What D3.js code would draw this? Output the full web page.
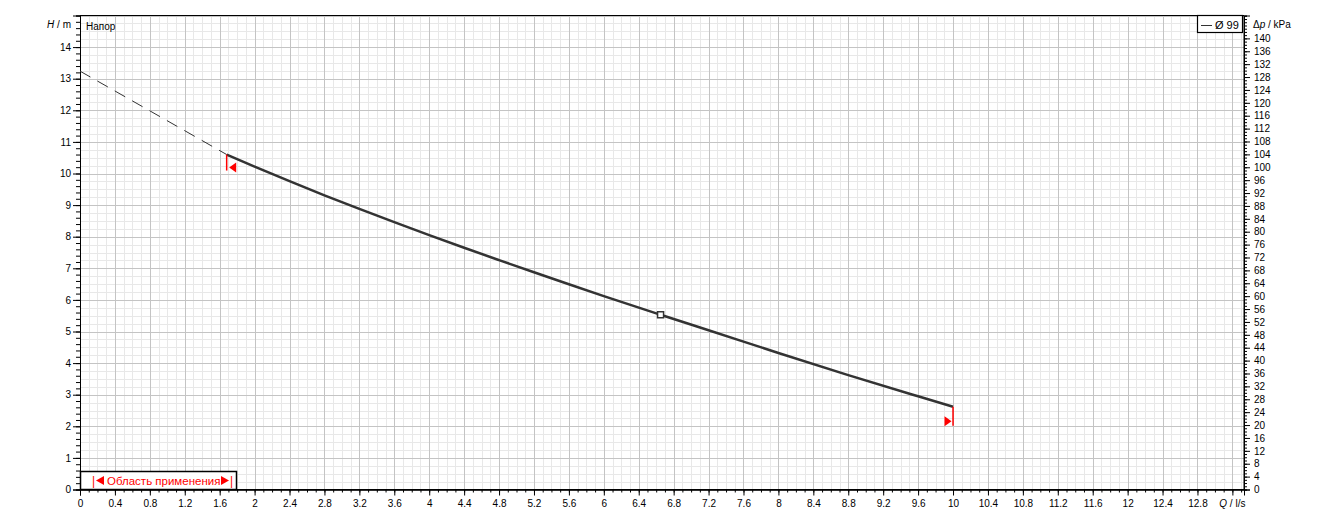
<!DOCTYPE html>
<html><head><meta charset="utf-8">
<script src="https://cdn.jsdelivr.net/npm/d3@7"></script>
<style>
body{margin:0;background:#fff}
text{font-family:"Liberation Sans",Arial,sans-serif;font-size:10px;fill:#000}
</style>
</head><body>
<svg id="c" width="1323" height="522"></svg>
<script>
// ---- data ----
const curveQ = [1.68, 2, 2.4, 2.8, 3.2, 3.6, 4, 4.4, 4.8, 5.2, 5.6, 6, 6.65, 7.2, 8, 8.8, 9.6, 10];
const curveH = [10.6, 10.22, 9.76, 9.31, 8.88, 8.46, 8.05, 7.65, 7.26, 6.875, 6.495, 6.12, 5.53, 5.04, 4.32, 3.62, 2.95, 2.62];
const extrapQ = [0, 1.68];
const extrapH = [13.24, 10.6];
const dutyQ = [6.65];
const dutyH = [5.53];
const rangeQ = [1.68, 10];
const seriesName = "Ø 99";
const xTickLabels = ["0","0.4","0.8","1.2","1.6","2","2.4","2.8","3.2","3.6","4","4.4","4.8","5.2","5.6","6","6.4","6.8","7.2","7.6","8","8.4","8.8","9.2","9.6","10","10.4","10.8","11.2","11.6","12","12.4","12.8"];
const yTickLabels = ["0","1","2","3","4","5","6","7","8","9","10","11","12","13","14"];
const kpaTickLabels = ["0","4","8","12","16","20","24","28","32","36","40","44","48","52","56","60","64","68","72","76","80","84","88","92","96","100","104","108","112","116","120","124","128","132","136","140"];

// ---- layout ----
const L = 80, R = 1244, T = 15.5, B = 489.5;
const qMax = 13.333, hMax = 15, kPaPerM = 9.80665;
const x = d3.scaleLinear().domain([0, qMax]).range([L, R]);
const y = d3.scaleLinear().domain([0, hMax]).range([B, T]);
const yk = d3.scaleLinear().domain([0, hMax * kPaPerM]).range([B, T]);
const svg = d3.select("#c");
const px = v => Math.round(v) + 0.5;

// grid
const g = svg.append("g");
const minorQ = d3.range(0, 134).map(i => i / 10);
const minorH = d3.range(0, 61).map(i => i / 4);
g.selectAll(".vmin").data(minorQ).join("line")
  .attr("x1", d => px(x(d))).attr("x2", d => px(x(d))).attr("y1", T).attr("y2", B)
  .attr("stroke", d => (Math.round(d * 10) % 4 === 0) ? "#c4c4c4" : "#e8e8e8").attr("stroke-width", 1);
g.selectAll(".hmin").data(minorH).join("line")
  .attr("y1", d => px(y(d))).attr("y2", d => px(y(d))).attr("x1", L).attr("x2", R)
  .attr("stroke", d => (Math.round(d * 4) % 4 === 0) ? "#c4c4c4" : "#e8e8e8").attr("stroke-width", 1);
g.selectAll(".vmaj").data(minorQ.filter(d => Math.round(d * 10) % 4 === 0)).join("line")
  .attr("x1", d => px(x(d))).attr("x2", d => px(x(d))).attr("y1", T).attr("y2", B)
  .attr("stroke", "#c4c4c4");

// axes
const xMajorVals = xTickLabels.map(Number).concat([13.2]);
const xAxis = d3.axisBottom(x).tickValues(xMajorVals).tickSize(6).tickPadding(4)
  .tickFormat((d, i) => i < xTickLabels.length ? xTickLabels[i] : "");
svg.append("g").attr("transform", `translate(0,${B})`).call(xAxis);
svg.append("g").attr("transform", `translate(0,${B})`)
  .call(d3.axisBottom(x).tickValues(minorQ).tickSize(3).tickFormat(""));

const yAxis = d3.axisLeft(y).tickValues(yTickLabels.map(Number)).tickSize(7).tickPadding(2)
  .tickFormat((d, i) => yTickLabels[i]);
svg.append("g").attr("transform", `translate(${L},0)`).call(yAxis);
svg.append("g").attr("transform", `translate(${L},0)`)
  .call(d3.axisLeft(y).tickValues(d3.range(0, 76).map(i => i / 5)).tickSize(4).tickFormat(""));

const kAxis = d3.axisRight(yk).tickValues(kpaTickLabels.map(Number)).tickSize(6).tickPadding(4)
  .tickFormat((d, i) => kpaTickLabels[i]);
svg.append("g").attr("transform", `translate(${R},0)`).call(kAxis);
svg.append("g").attr("transform", `translate(${R},0)`)
  .call(d3.axisRight(yk).tickValues(d3.range(0, 148)).tickSize(3).tickFormat(""));

svg.selectAll(".domain").attr("stroke", "#000").attr("stroke-width", 1);
svg.selectAll(".tick line").attr("stroke", "#000");
svg.selectAll(".tick text").style("font-size", "10px").attr("fill", "#000");

// frame
svg.append("rect").attr("x", L + 0.5).attr("y", T).attr("width", R - L - 0.5).attr("height", B - T)
  .attr("fill", "none").attr("stroke", "#000").attr("stroke-width", 1);

// axis titles
const hT = svg.append("text").attr("x", 71).attr("y", 28).attr("text-anchor", "end");
hT.append("tspan").attr("font-style", "italic").text("H");
hT.append("tspan").text(" / m");
const kT = svg.append("text").attr("x", 1253).attr("y", 28);
kT.append("tspan").text("Δ");
kT.append("tspan").attr("font-style", "italic").text("p");
kT.append("tspan").text(" / kPa");
const qT = svg.append("text").attr("x", x(13.2)).attr("y", 507).attr("text-anchor", "middle");
qT.append("tspan").attr("font-style", "italic").text("Q");
qT.append("tspan").text(" / l/s");

svg.append("text").attr("x", 86).attr("y", 30).text("Напор");

// curves
const line = d3.line().x(d => x(d[0])).y(d => y(d[1]));
svg.append("path").datum(d3.zip(extrapQ, extrapH)).attr("d", line)
  .attr("fill", "none").attr("stroke", "#333").attr("stroke-width", 1).attr("stroke-dasharray", "12,8");
svg.append("path").datum(d3.zip(curveQ, curveH)).attr("d", line.curve(d3.curveMonotoneX))
  .attr("fill", "none").attr("stroke", "#333").attr("stroke-width", 2.5).attr("stroke-linejoin", "round");

// range markers
const hAt = q => curveH[curveQ.indexOf(q)];
const xs = x(rangeQ[0]), ys = y(hAt(rangeQ[0]));
const xe = x(rangeQ[1]), ye = y(hAt(rangeQ[1]));
svg.append("line").attr("x1", xs).attr("x2", xs).attr("y1", ys).attr("y2", ys + 16)
  .attr("stroke", "#f00").attr("stroke-width", 1.5);
svg.append("path").attr("d", `M${xs + 2.5},${ys + 13} L${xs + 9.5},${ys + 8} L${xs + 9.5},${ys + 18} Z`).attr("fill", "#f00");
svg.append("line").attr("x1", xe).attr("x2", xe).attr("y1", ye).attr("y2", ye + 19)
  .attr("stroke", "#f00").attr("stroke-width", 1.5);
svg.append("path").attr("d", `M${xe - 1.5},${ye + 14.5} L${xe - 8.5},${ye + 9.5} L${xe - 8.5},${ye + 19.5} Z`).attr("fill", "#f00");

// duty point
svg.selectAll(".duty").data(d3.zip(dutyQ, dutyH)).join("rect")
  .attr("x", d => x(d[0]) - 3).attr("y", d => y(d[1]) - 3).attr("width", 6).attr("height", 6)
  .attr("fill", "#fff").attr("stroke", "#333").attr("stroke-width", 1.5);

// legend top-right
svg.append("rect").attr("x", 1197.5).attr("y", 15.5).attr("width", 45).attr("height", 17)
  .attr("fill", "#fff").attr("stroke", "#000").attr("stroke-width", 1.2);
svg.append("line").attr("x1", 1201).attr("x2", 1212).attr("y1", 25.5).attr("y2", 25.5).attr("stroke", "#333");
svg.append("text").attr("x", 1215).attr("y", 29).style("font-size", "11px").text(seriesName);

// legend bottom-left
svg.append("rect").attr("x", 80.5).attr("y", 471.5).attr("width", 156).attr("height", 18)
  .attr("fill", "#fff").attr("stroke", "#000").attr("stroke-width", 1.5);
const lg = svg.append("g");
lg.append("text").attr("x", 92).attr("y", 485).style("font-size", "12px").style("fill", "#f00").text("|");
lg.append("path").attr("d", "M96,480.5 L104,476 L104,485 Z").attr("fill", "#f00");
lg.append("text").attr("x", 107).attr("y", 485).style("font-size", "11.5px").style("fill", "#f00").text("Область применения");
lg.append("path").attr("d", "M229,480.5 L221,476 L221,485 Z").attr("fill", "#f00");
lg.append("text").attr("x", 230).attr("y", 485).style("font-size", "12px").style("fill", "#f00").text("|");
</script>
</body></html>
